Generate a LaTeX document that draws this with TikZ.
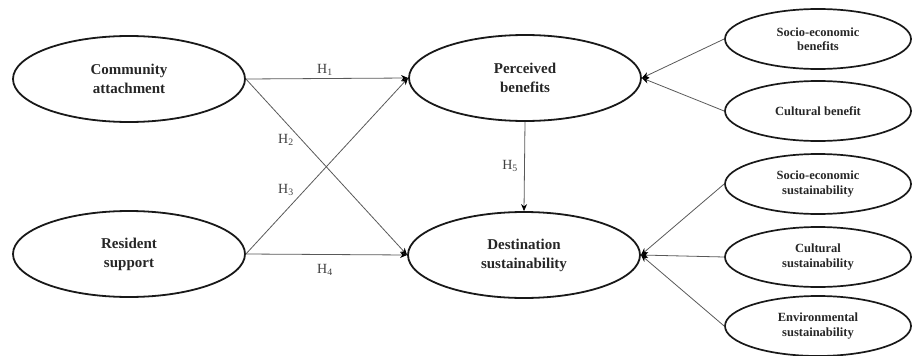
\documentclass[tikz,border=0pt]{standalone}
\usepackage{fontspec}
\setmainfont{Liberation Serif}
\usetikzlibrary{shapes.geometric,arrows.meta}
\tikzset{
  big/.style={ellipse, draw=black!90, line width=1.8pt, inner sep=0pt,
    minimum width=232pt, minimum height=86pt, align=center,
    font=\fontsize{15}{19}\selectfont\bfseries, text=black!85},
  small/.style={ellipse, draw=black!90, line width=1.7pt, inner sep=0pt,
    minimum width=186pt, minimum height=60pt, align=center,
    font=\fontsize{12.5}{14.5}\selectfont\bfseries, text=black!85},
  conn/.style={draw=black!65, line width=0.8pt},
  arr/.style={conn, -{Stealth[length=7pt,width=6pt,black]}},
  hlab/.style={font=\fontsize{14}{16}\selectfont, text=black!75}
}
\begin{document}
\begin{tikzpicture}[x=1pt,y=-1pt]
\useasboundingbox (0,0) rectangle (913,356);
\node[big] (ca) at (129,79) {Community\\attachment};
\node[big] (rs) at (129,254) {Resident\\support};
\node[big] (pb) at (525,78) {Perceived\\benefits};
\node[big] (ds) at (524,255) {Destination\\sustainability};
\node[small] (seb) at (818,39) {Socio-economic\\benefits};
\node[small] (cb) at (818,111) {Cultural benefit};
\node[small] (ses) at (818,184) {Socio-economic\\sustainability};
\node[small] (cs) at (818,257) {Cultural\\sustainability};
\node[small] (es) at (818,326) {Environmental\\sustainability};
\draw[arr] (ca.east) -- (pb.west);
\draw[arr] (ca.east) -- (ds.west);
\draw[arr] (rs.east) -- (pb.west);
\draw[arr] (rs.east) -- (ds.west);
\draw[arr] (pb.south) -- (ds.north);
\draw[arr] (seb.west) -- (pb.east);
\draw[arr] (cb.west) -- (pb.east);
\draw[arr] (ses.west) -- (ds.east);
\draw[arr] (cs.west) -- (ds.east);
\draw[arr] (es.west) -- (ds.east);
\node[hlab] (h1) at (325,70) {H\textsubscript{1}};
\node[hlab] (h2) at (286,140) {H\textsubscript{2}};
\node[hlab] (h3) at (286,190) {H\textsubscript{3}};
\node[hlab] (h4) at (325,270) {H\textsubscript{4}};
\node[hlab] (h5) at (510,166) {H\textsubscript{5}};
\end{tikzpicture}
\end{document}
